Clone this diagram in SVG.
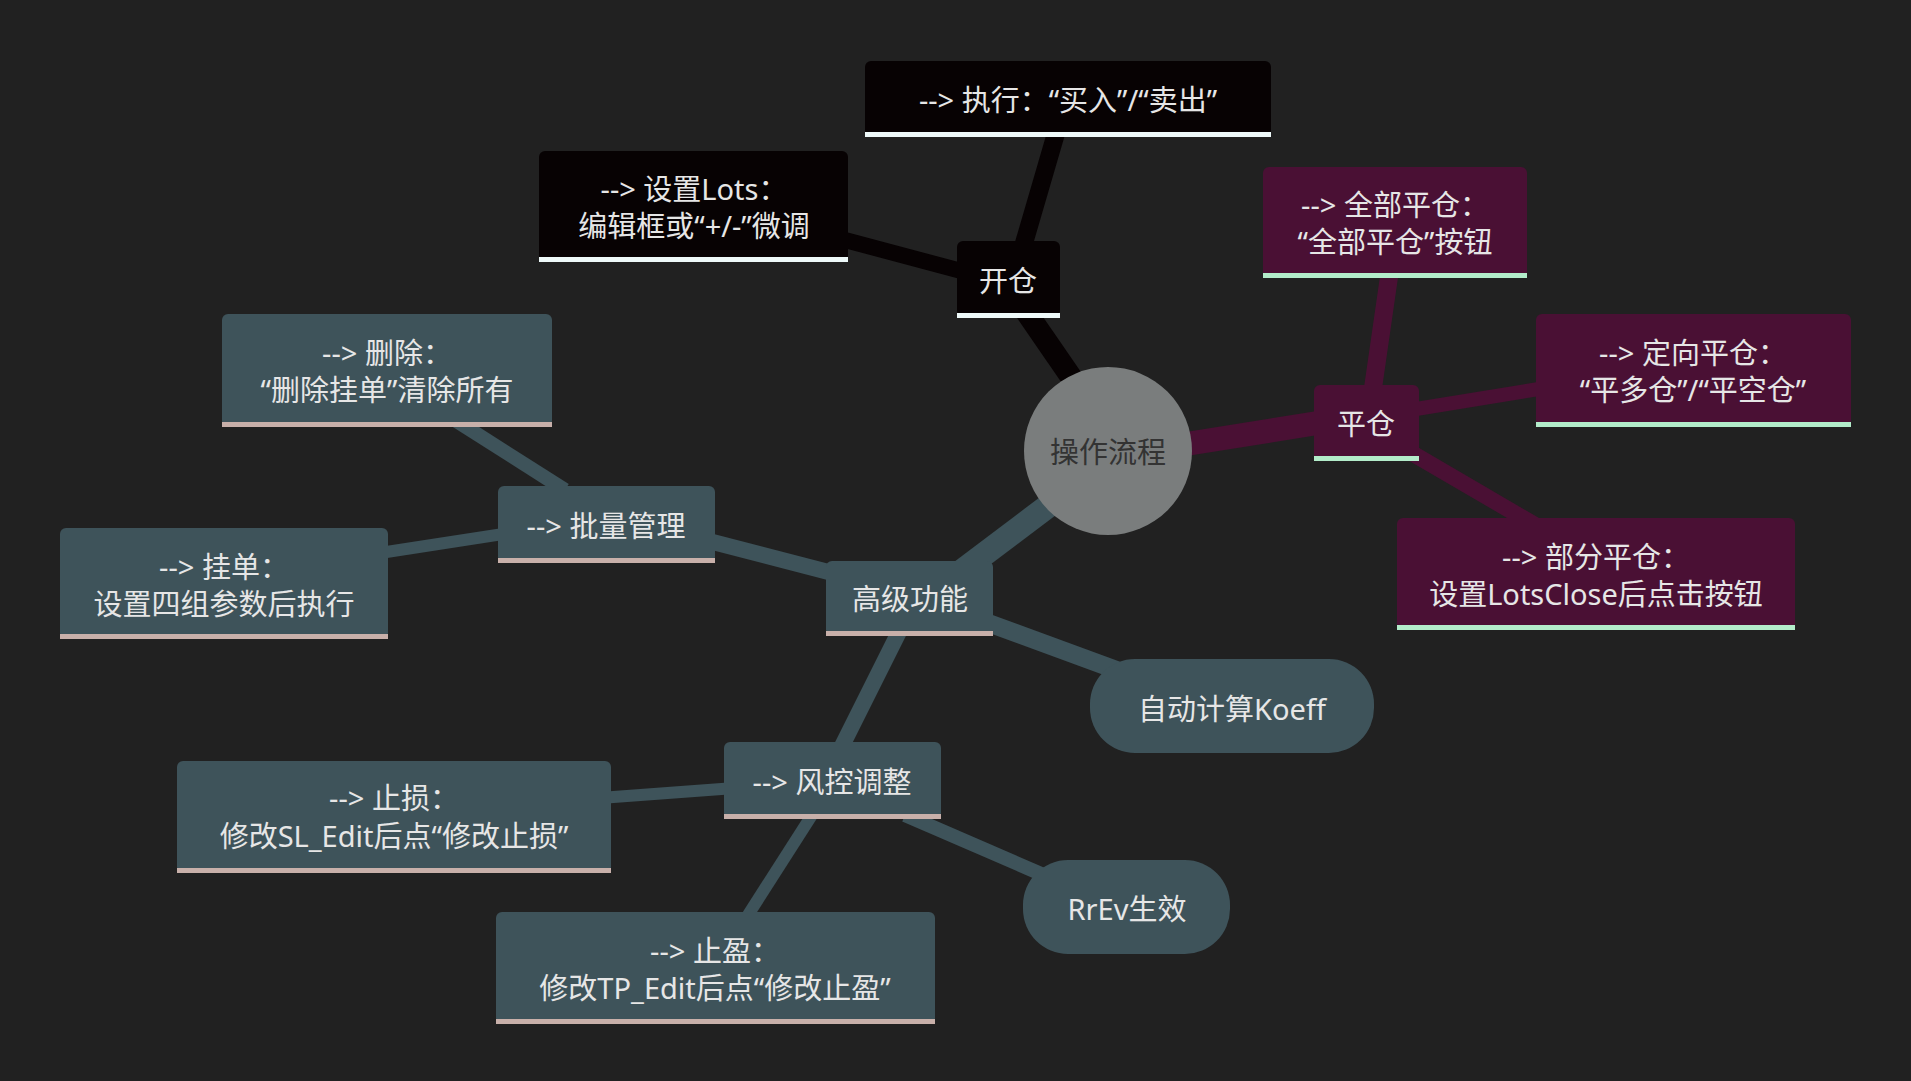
<svg xmlns="http://www.w3.org/2000/svg" width="1911" height="1081" viewBox="0 0 1911 1081">
<style>
text{font-family:"Noto Sans","Noto Sans CJK SC",sans-serif;font-size:29px;fill:#e6e6e6;text-anchor:middle;dominant-baseline:central}
.k{fill:#070203}.ku{fill:#eef9f9}
.p{fill:#4a1034}.pu{fill:#b3ecca}
.s{fill:#3e535a}.su{fill:#c8b0aa}
.ck{stroke:#070203}.cp{stroke:#4a1034}.cs{stroke:#3e535a}
line{stroke-linecap:butt}
</style>
<rect width="1911" height="1081" fill="#212121"/>
<g id="connectors" fill="none">
<line class="ck" x1="1080" y1="390" x2="1018" y2="300" stroke-width="22"/>
<line class="ck" x1="1022" y1="250" x2="1057" y2="130" stroke-width="18"/>
<line class="ck" x1="965" y1="272" x2="845" y2="240" stroke-width="16"/>
<line class="cp" x1="1180" y1="445" x2="1330" y2="421" stroke-width="24"/>
<line class="cp" x1="1372" y1="395" x2="1390" y2="270" stroke-width="18"/>
<line class="cp" x1="1410" y1="410" x2="1545" y2="388" stroke-width="14"/>
<line class="cp" x1="1410" y1="452" x2="1535" y2="525" stroke-width="16"/>
<line class="cs" x1="1060" y1="497" x2="930" y2="595" stroke-width="24"/>
<line class="cs" x1="840" y1="575" x2="705" y2="540" stroke-width="16"/>
<line class="cs" x1="565" y1="490" x2="455" y2="420" stroke-width="14"/>
<line class="cs" x1="510" y1="533" x2="380" y2="553" stroke-width="12"/>
<line class="cs" x1="980" y1="620" x2="1130" y2="675" stroke-width="18"/>
<line class="cs" x1="900" y1="630" x2="840" y2="750" stroke-width="16"/>
<line class="cs" x1="735" y1="788" x2="600" y2="798" stroke-width="12"/>
<line class="cs" x1="812" y1="815" x2="748" y2="915" stroke-width="12"/>
<line class="cs" x1="905" y1="815" x2="1055" y2="880" stroke-width="14"/>
</g>
<g id="center"><circle cx="1108" cy="451" r="84" fill="#7a7d7d"/><text x="1108" y="451" style="fill:#333">操作流程</text></g>
<g id="kaicang"><rect class="k" x="957" y="241" width="103" height="76" rx="6"/><rect class="ku" x="957" y="313" width="103" height="5"/><text x="1008" y="280">开仓</text></g>
<g id="zhixing"><rect class="k" x="865" y="61" width="406" height="76" rx="6"/><rect class="ku" x="865" y="132" width="406" height="5"/><text x="1068" y="99">--&gt; 执行：“买入”/“卖出”</text></g>
<g id="lots"><rect class="k" x="539" y="151" width="309" height="111" rx="6"/><rect class="ku" x="539" y="257" width="309" height="5"/><text x="694" y="188">--&gt; 设置Lots：</text><text x="694" y="225">编辑框或“+/-”微调</text></g>
<g id="pingcang"><rect class="p" x="1314" y="385" width="105" height="76" rx="6"/><rect class="pu" x="1314" y="456" width="105" height="5"/><text x="1366" y="423">平仓</text></g>
<g id="quanbu"><rect class="p" x="1263" y="167" width="264" height="111" rx="6"/><rect class="pu" x="1263" y="273" width="264" height="5"/><text x="1395" y="204">--&gt; 全部平仓：</text><text x="1395" y="241">“全部平仓”按钮</text></g>
<g id="dingxiang"><rect class="p" x="1536" y="314" width="315" height="113" rx="6"/><rect class="pu" x="1536" y="422" width="315" height="5"/><text x="1693" y="352">--&gt; 定向平仓：</text><text x="1693" y="389">“平多仓”/“平空仓”</text></g>
<g id="bufen"><rect class="p" x="1397" y="518" width="398" height="112" rx="6"/><rect class="pu" x="1397" y="625" width="398" height="5"/><text x="1596" y="556">--&gt; 部分平仓：</text><text x="1596" y="593">设置LotsClose后点击按钮</text></g>
<g id="gaoji"><rect class="s" x="826" y="561" width="167" height="75" rx="6"/><rect class="su" x="826" y="631" width="167" height="5"/><text x="910" y="598">高级功能</text></g>
<g id="piliang"><rect class="s" x="498" y="486" width="217" height="77" rx="6"/><rect class="su" x="498" y="558" width="217" height="5"/><text x="606" y="525">--&gt; 批量管理</text></g>
<g id="shanchu"><rect class="s" x="222" y="314" width="330" height="113" rx="6"/><rect class="su" x="222" y="422" width="330" height="5"/><text x="387" y="352">--&gt; 删除：</text><text x="387" y="389">“删除挂单”清除所有</text></g>
<g id="guadan"><rect class="s" x="60" y="528" width="328" height="111" rx="6"/><rect class="su" x="60" y="634" width="328" height="5"/><text x="224" y="566">--&gt; 挂单：</text><text x="224" y="603">设置四组参数后执行</text></g>
<g id="koeff"><rect class="s" x="1090" y="659" width="284" height="94" rx="45"/><text x="1232" y="708">自动计算Koeff</text></g>
<g id="fengkong"><rect class="s" x="724" y="742" width="217" height="77" rx="6"/><rect class="su" x="724" y="814" width="217" height="5"/><text x="832" y="781">--&gt; 风控调整</text></g>
<g id="zhisun"><rect class="s" x="177" y="761" width="434" height="112" rx="6"/><rect class="su" x="177" y="868" width="434" height="5"/><text x="394" y="797">--&gt; 止损：</text><text x="394" y="835">修改SL_Edit后点“修改止损”</text></g>
<g id="zhiying"><rect class="s" x="496" y="912" width="439" height="112" rx="6"/><rect class="su" x="496" y="1019" width="439" height="5"/><text x="715" y="950">--&gt; 止盈：</text><text x="715" y="987">修改TP_Edit后点“修改止盈”</text></g>
<g id="rrev"><rect class="s" x="1023" y="860" width="207" height="94" rx="45"/><text x="1127" y="908">RrEv生效</text></g>
</svg>
